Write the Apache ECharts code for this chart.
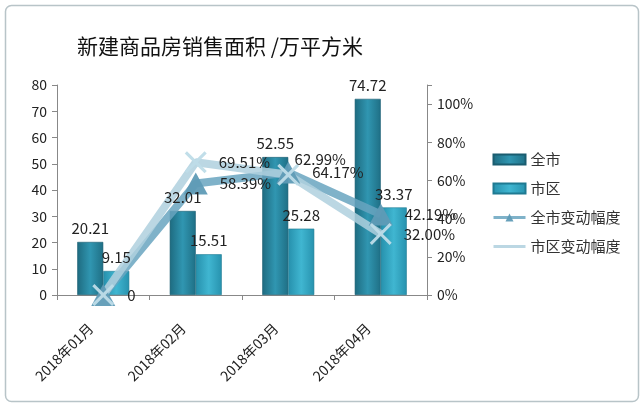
<!DOCTYPE html>
<html><head><meta charset="utf-8">
<script src="https://cdn.jsdelivr.net/npm/echarts@6/dist/echarts.min.js"></script>
<style>html,body{margin:0;padding:0;background:#fff}#c{width:640px;height:404px}</style>
</head><body><div id="c"></div>
<script>
var categories = ['2018年01月','2018年02月','2018年03月','2018年04月'];
var cityArea = [20.21, 32.01, 52.55, 74.72];
var districtArea = [9.15, 15.51, 25.28, 33.37];
var cityChange = [0, 58.39, 64.17, 42.19];
var districtChange = [0, 69.51, 62.99, 32.00];
var leftTicks = {min: 0, max: 80, interval: 10};
var rightTicks = {min: 0, max: 110, interval: 20};

var FONT = '"Noto Sans CJK SC", sans-serif';
var chart = echarts.init(document.getElementById('c'), null, {renderer: 'canvas'});

function barGrad(a, b, c) {
  return new echarts.graphic.LinearGradient(0, 0, 1, 0, [
    {offset: 0, color: a}, {offset: 0.5, color: b}, {offset: 1, color: c}
  ]);
}
var crossPath = 'path://M0,2 L2,0 L10,8 L18,0 L20,2 L12,10 L20,18 L18,20 L10,12 L2,20 L0,18 L8,10 Z';

var distData = districtChange.map(function (v, i) {
  var d = {value: v};
  if (i === 0) d.label = {show: false};
  if (i === 2) d.label = {position: 'top', distance: 0, offset: [32, 3]};
  return d;
});

var barLabel = {show: true, position: 'top', distance: 6, fontSize: 15, color: '#222', fontFamily: FONT};

chart.setOption({
  backgroundColor: '#fff',
  animation: false,
  textStyle: {fontFamily: FONT},
  graphic: [{
    type: 'rect', left: 3, top: 3,
    shape: {width: 633, height: 396, r: 6},
    style: {fill: 'none', stroke: '#b8c4c8', lineWidth: 1.5},
    silent: true
  }],
  title: {
    text: '新建商品房销售面积 /万平方米',
    left: 72, top: 31,
    textStyle: {fontSize: 21, fontWeight: 'normal', color: '#111', fontFamily: FONT}
  },
  legend: {
    orient: 'vertical', left: 487, top: 147, itemGap: 14,
    itemWidth: 32, itemHeight: 10,
    lineStyle: {width: 3},
    textStyle: {fontSize: 15, color: '#333', fontFamily: FONT},
    data: [
      {name: '全市', icon: 'rect'},
      {name: '市区', icon: 'rect'},
      {name: '全市变动幅度'},
      {name: '市区变动幅度', itemStyle: {opacity: 0}}
    ]
  },
  grid: {left: 57, right: 213, top: 85, bottom: 109},
  xAxis: [{
    type: 'category', data: categories,
    axisLine: {lineStyle: {color: '#888'}},
    axisTick: {show: true, length: 5, lineStyle: {color: '#888'}},
    axisLabel: {rotate: 45, fontSize: 14, color: '#222', margin: 18, padding: [0, 18, 0, 0], fontFamily: FONT}
  }, {
    type: 'category', data: categories, show: false
  }],
  yAxis: [{
    type: 'value', min: leftTicks.min, max: leftTicks.max, interval: leftTicks.interval,
    axisLine: {show: true, lineStyle: {color: '#888'}},
    axisTick: {show: true, length: 5, lineStyle: {color: '#888'}},
    splitLine: {show: false},
    axisLabel: {fontSize: 14, color: '#222', margin: 10, fontFamily: FONT}
  }, {
    type: 'value', min: rightTicks.min, max: rightTicks.max, interval: rightTicks.interval,
    axisLine: {show: true, lineStyle: {color: '#888'}},
    axisTick: {show: true, length: 5, lineStyle: {color: '#888'}},
    splitLine: {show: false},
    axisLabel: {fontSize: 14, color: '#222', margin: 10, fontFamily: FONT,
      formatter: function (v) { return v > 100 ? '' : v + '%'; }}
  }],
  series: [{
    name: '全市', type: 'bar', data: cityArea, barWidth: 26, barGap: '0%', z: 2,
    itemStyle: {color: barGrad('#1e6b80', '#3096b1', '#1f6f85'), borderColor: '#1a5d70', borderWidth: 0.6}
  }, {
    name: '市区', type: 'bar', data: districtArea, barWidth: 26, z: 2,
    itemStyle: {color: barGrad('#2690ac', '#40b6d1', '#2792ae'), borderColor: '#1f7a92', borderWidth: 0.6}
  }, {
    name: '全市变动幅度', type: 'line', yAxisIndex: 1, data: cityChange, z: 3,
    symbol: 'triangle', symbolSize: [24, 22],
    lineStyle: {width: 8, color: 'rgba(105,165,192,0.85)'},
    itemStyle: {color: 'rgba(95,155,182,0.95)'},
    label: {show: true, position: 'right', distance: 12, fontSize: 15, color: '#222', fontFamily: FONT,
      formatter: function (p) { return p.value === 0 ? '0' : p.value.toFixed(2) + '%'; }}
  }, {
    name: '市区变动幅度', type: 'line', yAxisIndex: 1, data: distData, z: 3,
    symbol: crossPath, symbolSize: 22,
    lineStyle: {width: 8, color: 'rgba(175,208,222,0.85)'},
    itemStyle: {color: 'rgba(190,220,232,0.95)'},
    label: {show: true, position: 'right', distance: 12, fontSize: 15, color: '#222', fontFamily: FONT,
      formatter: function (p) { return p.value.toFixed(2) + '%'; }}
  }, {
    name: '全市标签', type: 'bar', xAxisIndex: 1, data: cityArea, barWidth: 26, barGap: '0%', z: 10,
    itemStyle: {color: 'rgba(0,0,0,0)'}, label: barLabel, silent: true
  }, {
    name: '市区标签', type: 'bar', xAxisIndex: 1, data: districtArea, barWidth: 26, z: 10,
    itemStyle: {color: 'rgba(0,0,0,0)'}, label: barLabel, silent: true
  }]
});
</script></body></html>
